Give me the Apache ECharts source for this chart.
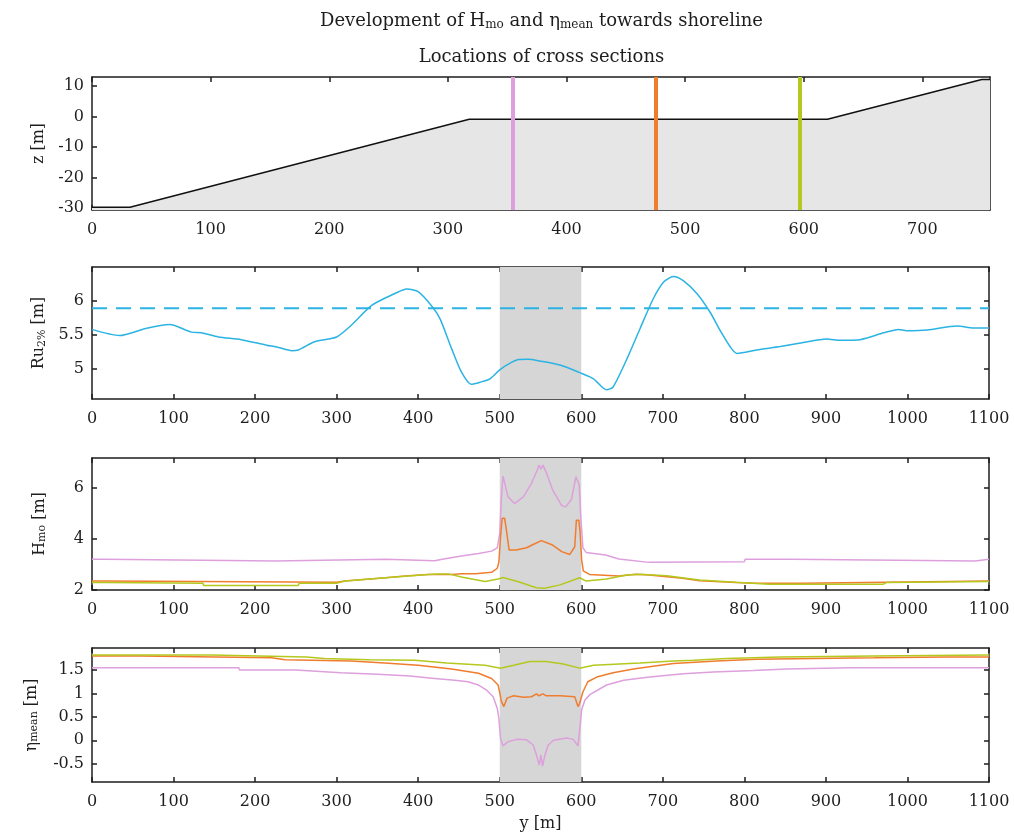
<!DOCTYPE html>
<html>
<head>
<meta charset="utf-8">
<title>Development of Hmo and ηmean towards shoreline</title>
<script src="https://cdn.jsdelivr.net/npm/echarts@6/dist/echarts.min.js"></script>
<style>
  html, body { margin: 0; padding: 0; background: #ffffff; }
  #chart { width: 1014px; height: 839px; }
</style>
</head>
<body>
<div id="chart"></div>
<script>
// ---- data -------------------------------------------------------------
// Bed profile along the cross-shore axis: [x (m), z (m)]
const bedProfile = [[0, -29.8], [32, -29.8], [318, -0.9], [620, -0.9], [750, 12.2], [757, 12.2]];
// Cross-section positions (m) and their colours
const sectionX = [355, 475, 597];
const sectionColors = ['#dda0dd', '#f07d2e', '#b4c81e'];

// Run-up Ru2% along the shoreline: [y (m), Ru2% (m)]
const ruLine = [[0,5.58],[34,5.49],[65,5.59],[95,5.65],[122,5.54],[134,5.53],[155,5.47],[183,5.43],[214,5.35],[228,5.32],[245,5.27],[253,5.28],[273,5.40],[300,5.47],[318,5.64],[343,5.93],[371,6.10],[386,6.17],[400,6.13],[418,5.90],[427,5.73],[441,5.30],[453,4.96],[465,4.78],[476,4.81],[488,4.86],[500,4.99],[510,5.07],[523,5.14],[535,5.145],[549,5.12],[574,5.06],[598,4.95],[615,4.86],[631,4.70],[639,4.74],[656,5.15],[672,5.59],[688,6.02],[701,6.27],[713,6.35],[725,6.29],[742,6.10],[758,5.83],[770,5.57],[783,5.32],[791,5.23],[815,5.28],[844,5.33],[869,5.38],[901,5.44],[918,5.42],[942,5.43],[971,5.53],[989,5.58],[999,5.56],[1024,5.57],[1061,5.63],[1081,5.60],[1100,5.60]];
const ruMean = 5.89;

// Hmo per cross section: [y (m), Hmo (m)]
const hmoPink = [[0,3.2],[15,3.2],[16,3.13],[225,3.13],[226,3.2],[360,3.2],[361,3.13],[420,3.14],[433,3.22],[453,3.33],[474,3.43],[490,3.52],[497,3.65],[500,4.2],[502,5.6],[504,6.45],[506,6.2],[510,5.65],[518,5.38],[529,5.64],[539,6.17],[546,6.69],[548.5,6.88],[550.5,6.72],[553,6.88],[557.5,6.56],[565,5.9],[576,5.3],[581,5.25],[588,5.55],[593.5,6.43],[595.5,6.5],[597.5,6.1],[599.5,4.8],[602,3.65],[606,3.47],[630,3.37],[646,3.21],[683,3.08],[800,3.1],[801,3.2],[858,3.2],[859,3.13],[1083,3.13],[1084,3.2],[1100,3.2]];
const hmoOrange = [[0,2.35],[15,2.35],[16,2.3],[300,2.3],[310,2.35],[337,2.42],[360,2.48],[384,2.55],[412,2.61],[441,2.61],[453,2.64],[470,2.64],[490,2.69],[497,2.85],[499,3.1],[501,4.08],[503,4.8],[506,4.8],[508.5,4.28],[511.5,3.56],[520,3.56],[533,3.65],[541,3.78],[551,3.93],[564,3.77],[576,3.5],[586,3.39],[592,3.69],[594,4.73],[597,4.73],[598.5,4.28],[600.5,3.17],[602.5,2.75],[610,2.61],[646,2.55],[667,2.62],[683,2.59],[724,2.46],[745,2.36],[790,2.29],[814,2.26],[870,2.26],[871,2.33],[1100,2.35]];
const hmoGreen = [[0,2.29],[15,2.29],[16,2.26],[136,2.26],[137,2.18],[253,2.18],[254,2.26],[300,2.26],[310,2.35],[360,2.48],[412,2.61],[424,2.63],[437,2.63],[453,2.51],[482,2.33],[498,2.43],[504,2.49],[522,2.33],[545,2.09],[555,2.07],[574,2.2],[598,2.48],[606,2.35],[631,2.43],[656,2.59],[672,2.62],[705,2.56],[745,2.39],[794,2.29],[830,2.22],[970,2.22],[974,2.29],[1100,2.33]];

// Mean water level per cross section: [y (m), eta_mean (m)]
const etaPink = [[0,1.546],[180,1.546],[181,1.5],[250,1.5],[251,1.46],[305,1.44],[350,1.41],[390,1.37],[420,1.32],[445,1.28],[461,1.25],[474,1.18],[484,1.07],[492,0.93],[497,0.68],[499,0.46],[501,0.04],[504,-0.12],[510,-0.03],[521,0.02],[533,0.01],[541,-0.1],[545,-0.31],[548.5,-0.53],[550.5,-0.31],[552.5,-0.55],[555.5,-0.31],[559.5,-0.1],[566,0.0],[582,0.05],[590,0.02],[596,-0.12],[598.5,0.3],[600.5,0.65],[604.5,0.86],[611,0.98],[631,1.18],[652,1.28],[684,1.35],[725,1.42],[762,1.46],[811,1.49],[852,1.52],[930,1.546],[1100,1.546]];
const etaOrange = [[0,1.8],[60,1.8],[61,1.76],[220,1.76],[237,1.72],[318,1.69],[359,1.65],[400,1.6],[441,1.52],[474,1.43],[490,1.32],[498,1.18],[500,1.02],[502,0.83],[505,0.72],[509,0.9],[517,0.95],[529,0.92],[539,0.93],[545,0.99],[548,0.95],[553,0.99],[557,0.95],[574,0.95],[592,0.93],[596,0.72],[598,0.79],[602,1.03],[608,1.25],[619,1.35],[639,1.44],[664,1.52],[688,1.58],[713,1.64],[766,1.69],[815,1.73],[885,1.745],[959,1.76],[1049,1.78],[1100,1.78]];
const etaGreen = [[0,1.82],[146,1.82],[147,1.78],[263,1.78],[285,1.745],[340,1.72],[396,1.71],[435,1.65],[482,1.6],[501,1.54],[517,1.6],[537,1.68],[557,1.68],[578,1.63],[598,1.54],[615,1.6],[672,1.65],[713,1.69],[738,1.71],[778,1.745],[844,1.78],[958,1.8],[1100,1.82]];

// Structure band along the shoreline (m)
const structureBand = [500, 600];

// Tick values
const profileXTicks = [0, 100, 200, 300, 400, 500, 600, 700];
const profileZTicks = [-30, -20, -10, 0, 10];
const shoreTicks = [0, 100, 200, 300, 400, 500, 600, 700, 800, 900, 1000, 1100];
const ruTicks = [5, 5.5, 6];
const hmoTicks = [2, 4, 6];
const etaTicks = [-0.5, 0, 0.5, 1, 1.5];

// ---- styling helpers ---------------------------------------------------
const FONT = 'DejaVu Serif';
const INK = '#1e1e1e';
const LABEL_SIZE = 16;
const subRich = {
  a: { fontFamily: FONT, fontSize: LABEL_SIZE, color: INK },
  s: { fontFamily: FONT, fontSize: 11, color: INK, verticalAlign: 'bottom', padding: [6, 0, 0, 0] }
};
const titleRich = {
  a: { fontFamily: FONT, fontSize: 18, color: INK },
  s: { fontFamily: FONT, fontSize: 12, color: INK, verticalAlign: 'bottom', padding: [7, 0, 0, 0] }
};

function axisPair(kind, grid, min, max, ticks, opts) {
  opts = opts || {};
  const main = {
    type: 'value', gridIndex: grid, min: min, max: max,
    position: kind === 'x' ? 'bottom' : 'left',
    axisLine: { show: true, onZero: false, lineStyle: { color: INK, width: 1.5 } },
    axisTick: { show: true, inside: true, length: 5, customValues: ticks, lineStyle: { color: INK, width: 1.5 } },
    axisLabel: { show: true, customValues: ticks, margin: kind === 'x' ? 12 : 8,
                 fontFamily: FONT, fontSize: LABEL_SIZE, color: INK,
                 formatter: v => String(v) },
    splitLine: { show: false }
  };
  if (opts.name) {
    main.name = opts.name;
    main.nameLocation = 'middle';
    main.nameGap = opts.nameGap;
    main.nameTextStyle = { fontFamily: FONT, fontSize: LABEL_SIZE, color: INK, rich: subRich };
  }
  const mirror = {
    type: 'value', gridIndex: grid, min: min, max: max,
    position: kind === 'x' ? 'top' : 'right',
    axisLine: { show: true, onZero: false, lineStyle: { color: INK, width: 1.5 } },
    axisTick: { show: true, inside: true, length: 5, customValues: ticks, lineStyle: { color: INK, width: 1.5 } },
    axisLabel: { show: false },
    splitLine: { show: false }
  };
  return [main, mirror];
}

function bandSeries(grid) {
  return {
    type: 'line', xAxisIndex: 2 * grid, yAxisIndex: 2 * grid, data: [], z: 1, silent: true,
    markArea: {
      silent: true,
      itemStyle: { color: '#d6d6d6' },
      data: [[{ xAxis: structureBand[0] }, { xAxis: structureBand[1] }]]
    }
  };
}

function curve(grid, data, color, width, extra) {
  return Object.assign({
    type: 'line', xAxisIndex: 2 * grid, yAxisIndex: 2 * grid, data: data,
    showSymbol: false, symbol: 'none', z: 3, silent: true,
    lineStyle: { color: color, width: width }
  }, extra || {});
}

// ---- layout ------------------------------------------------------------
const gridLeft = 92, gridWidth = 897;
const plotCenter = gridLeft + gridWidth / 2;
const grids = [
  { left: gridLeft, width: 898, top: 77, height: 133 },
  { left: gridLeft, width: gridWidth, top: 267, height: 132 },
  { left: gridLeft, width: gridWidth, top: 458, height: 132 },
  { left: gridLeft, width: gridWidth, top: 648, height: 134 }
];

const xAxes = [].concat(
  axisPair('x', 0, 0, 757, profileXTicks),
  axisPair('x', 1, 0, 1100, shoreTicks),
  axisPair('x', 2, 0, 1100, shoreTicks),
  axisPair('x', 3, 0, 1100, shoreTicks, { name: 'y [m]', nameGap: 34 })
);
const yAxes = [].concat(
  axisPair('y', 0, -30.7, 13, profileZTicks, { name: '{a|z [m]}', nameGap: 44 }),
  axisPair('y', 1, 4.565, 6.49, ruTicks, { name: '{a|Ru}{s|2%}{a| [m]}', nameGap: 44 }),
  axisPair('y', 2, 2, 7.16, hmoTicks, { name: '{a|H}{s|mo}{a| [m]}', nameGap: 44 }),
  axisPair('y', 3, -0.89, 1.97, etaTicks, { name: '{a|η}{s|mean}{a| [m]}', nameGap: 52 })
);

const series = [
  // bed profile with filled sea bed
  curve(0, bedProfile, '#111111', 1.5, {
    areaStyle: { color: '#e6e6e6', opacity: 1, origin: 'start' }, z: 2,
    markLine: {
      silent: true, symbol: 'none', label: { show: false },
      data: sectionX.map((x, i) => ({ xAxis: x, lineStyle: { color: sectionColors[i], width: 4, type: 'solid' } }))
    }
  }),
  // run-up
  bandSeries(1),
  curve(1, [[0, ruMean], [1100, ruMean]], '#2bb3e3', 2, { lineStyle: { color: '#2bb3e3', width: 2, type: [15, 9] } }),
  curve(1, ruLine, '#2bb3e3', 1.5, { smooth: 0.25 }),
  // wave height
  bandSeries(2),
  curve(2, hmoPink, sectionColors[0], 1.5),
  curve(2, hmoOrange, sectionColors[1], 1.5),
  curve(2, hmoGreen, sectionColors[2], 1.5),
  // mean water level
  bandSeries(3),
  curve(3, etaPink, sectionColors[0], 1.5),
  curve(3, etaOrange, sectionColors[1], 1.5),
  curve(3, etaGreen, sectionColors[2], 1.5)
];

const chart = echarts.init(document.getElementById('chart'), null, { renderer: 'canvas' });
chart.setOption({
  animation: false,
  backgroundColor: '#ffffff',
  title: [
    {
      text: '{a|Development of H}{s|mo}{a| and η}{s|mean}{a| towards shoreline}',
      left: plotCenter - 4, top: 7, textAlign: 'center',
      textStyle: { fontFamily: FONT, fontSize: 18, color: INK, fontWeight: 'normal', rich: titleRich }
    },
    {
      text: 'Locations of cross sections',
      left: plotCenter - 4, top: 43, textAlign: 'center',
      textStyle: { fontFamily: FONT, fontSize: 18, color: INK, fontWeight: 'normal' }
    }
  ],
  grid: grids,
  xAxis: xAxes,
  yAxis: yAxes,
  series: series
});
</script>
</body>
</html>
